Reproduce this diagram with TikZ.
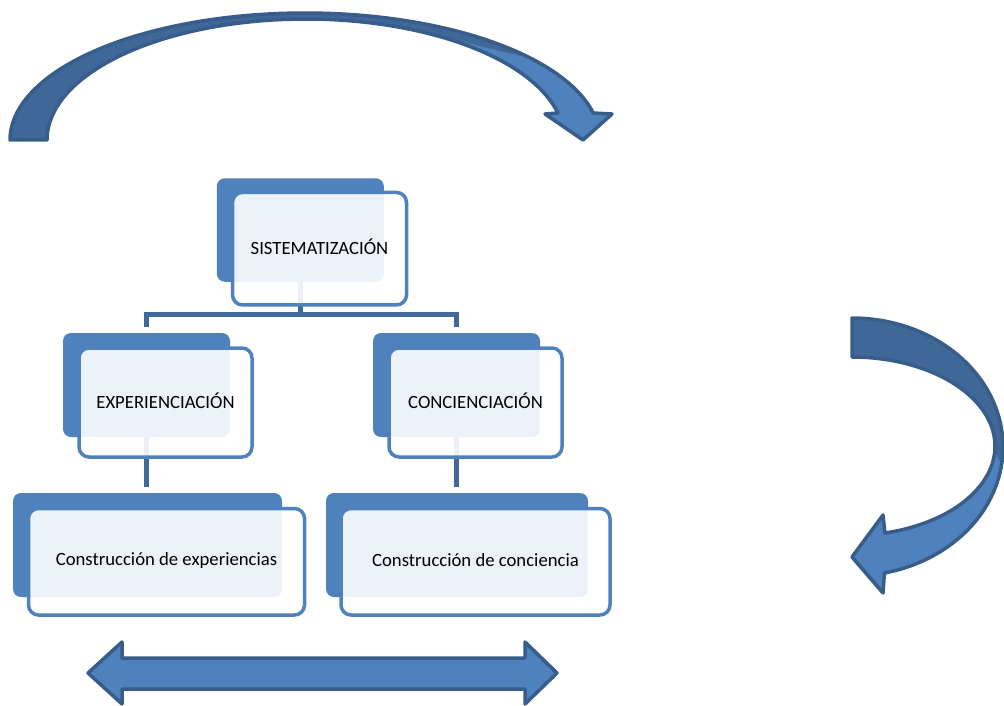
\documentclass[tikz,border=0pt]{standalone}
\usepackage{fontspec}
\setmainfont{Carlito}
\definecolor{accent}{HTML}{4F81BD}
\definecolor{edge}{HTML}{385D8A}
\definecolor{backtone}{HTML}{3F6797}
\definecolor{link}{HTML}{41699C}
\newcommand{\toparrowpath}{plot[domain=180:12.27, samples=80, variable=\t] ({305+295*cos(\t)},{140-127*sin(\t)}) -- (612,114) -- (583,140) -- (545,114) -- plot[domain=12.9:180, samples=80, variable=\t] ({305.7+258.7*cos(\t)},{140-121*sin(\t)}) -- cycle}
\newcommand{\rightarrowpath}{plot[domain=90:-77.6, samples=80, variable=\t] ({852+151*cos(\t)},{447-129*sin(\t)}) -- (883,593) -- (852,557) -- (883,515) -- plot[domain=-76.7:90, samples=80, variable=\t] ({852+143*cos(\t)},{446.2-89.2*sin(\t)}) -- cycle}
\begin{document}
\begin{tikzpicture}[x=1pt,y=-1pt,
  backbox/.style={fill=accent, rounded corners=8pt, inner sep=0pt, outer sep=0pt},
  frontbox/.style={draw=accent, line width=3.5pt, fill=white, fill opacity=0.9, rounded corners=10pt, inner sep=0pt, outer sep=0pt},
  label/.style={font=\fontsize{18.7}{22}\selectfont, text=black, inner sep=0pt, yshift=1.5pt},
  connector/.style={draw=link, line width=5pt},
  arrowline/.style={draw=edge, line width=3.5pt, line join=round},
]
\useasboundingbox (0,0) rectangle (1004,706);

% ---- curved arrow on top ----
\fill[accent] \toparrowpath;
\fill[backtone] plot[domain=180:40, samples=60, variable=\t] ({305+295*cos(\t)},{140-127*sin(\t)})
  -- plot[domain=64:180, samples=60, variable=\t] ({305.7+258.7*cos(\t)},{140-121*sin(\t)}) -- cycle;
\draw[arrowline] \toparrowpath;

% ---- curved arrow on the right ----
\fill[accent] \rightarrowpath;
\fill[backtone] plot[domain=90:-8, samples=60, variable=\t] ({852+151*cos(\t)},{447-129*sin(\t)})
  -- plot[domain=-3:90, samples=60, variable=\t] ({852+143*cos(\t)},{446.2-89.2*sin(\t)}) -- cycle;
\draw[arrowline] \rightarrowpath;

% ---- double arrow at the bottom ----
\draw[arrowline, fill=accent] (88,673) -- (122,642) -- (122,658) -- (525,658) -- (525,642) -- (557,673)
  -- (525,704) -- (525,689) -- (122,689) -- (122,704) -- cycle;

% ---- back boxes ----
\node[backbox, minimum width=167pt, minimum height=103.5pt] (sisB) at (300.3,230) {};
\node[backbox, minimum width=167pt, minimum height=104pt] (expB) at (146.5,385) {};
\node[backbox, minimum width=167pt, minimum height=104pt] (conB) at (456.5,385) {};
\node[backbox, minimum width=269pt, minimum height=104pt] (cexpB) at (147.5,545) {};
\node[backbox, minimum width=262pt, minimum height=104pt] (cconB) at (457,545) {};

% ---- connectors ----
\draw[connector, shorten >=6pt] (sisB.south) -- ++(0,32.3) -| (expB.north);
\draw[connector, shorten >=6pt] (sisB.south) -- ++(0,32.3) -| (conB.north);
\draw[connector, shorten >=6pt] (expB.south) -- (expB.south |- cexpB.north);
\draw[connector, shorten >=6pt] (conB.south) -- (conB.south |- cconB.north);

% ---- front boxes ----
\node[frontbox, minimum width=174pt, minimum height=112.5pt] (sisF) at (319.5,248.7) {};
\node[frontbox, minimum width=173pt, minimum height=109pt] (expF) at (165.5,402.5) {};
\node[frontbox, minimum width=173pt, minimum height=109pt] (conF) at (475.5,402.5) {};
\node[frontbox, minimum width=276pt, minimum height=106.5pt] (cexpF) at (166.5,561.75) {};
\node[frontbox, minimum width=269pt, minimum height=106.5pt] (cconF) at (475.5,561.75) {};

% ---- labels ----
\node[label] (sisT) at (sisF.center) {SISTEMATIZACIÓN};
\node[label] (expT) at (expF.center) {EXPERIENCIACIÓN};
\node[label] (conT) at (conF.center) {CONCIENCIACIÓN};
\node[label] (cexpT) at (cexpF.center) {Construcción de experiencias};
\node[label] (cconT) at (cconF.center) {Construcción de conciencia};
\end{tikzpicture}
\end{document}
